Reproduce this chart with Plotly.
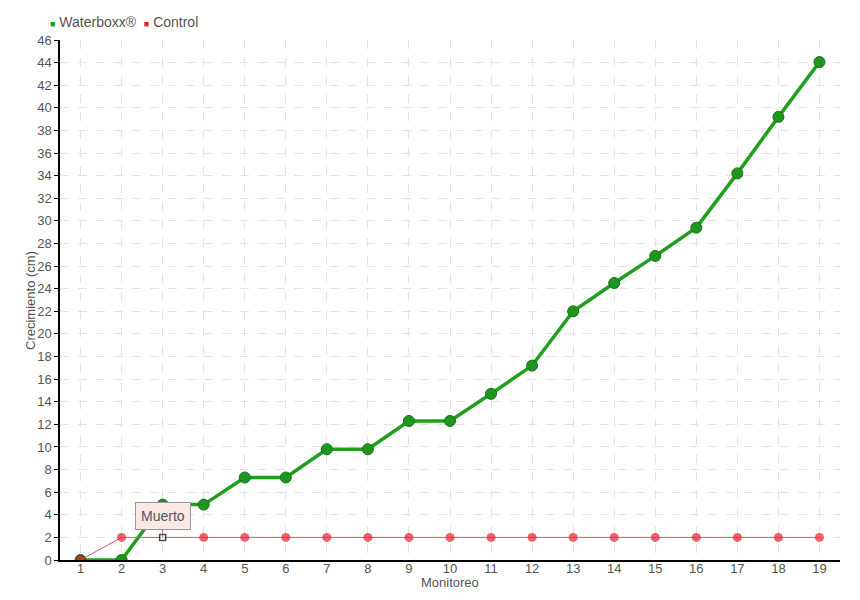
import plotly.graph_objects as go

monitoreo = list(range(1, 20))
waterboxx = [0, 0, 4.9, 4.9, 7.3, 7.3, 9.8, 9.8, 12.3, 12.3, 14.7, 17.2, 22.0, 24.5, 26.9, 29.4, 34.2, 39.2, 44.05]
control = [0] + [2] * 18
control_symbols = ["circle", "circle", "square"] + ["circle"] * 16
control_fill = ["#ee1c2e", "#ee1c2e", "white"] + ["#ee1c2e"] * 16
control_line = ["#b0001a", "#ee1c2e", "black"] + ["#ee1c2e"] * 16
control_size = [9, 9, 6] + [9] * 16

FONT = "Liberation Sans, Arial, sans-serif"
TXT = "#555555"
GREEN = "#1ea01e"
RED = "#ee1c2e"

fig = go.Figure()
fig.add_trace(go.Scatter(
    x=monitoreo, y=waterboxx, mode="lines+markers", name="Waterboxx®", showlegend=False,
    line=dict(color=GREEN, width=3.5),
    marker=dict(size=11, color="#1e961e", line=dict(color="#16701a", width=1)),
))
fig.add_trace(go.Scatter(
    x=monitoreo, y=control, mode="lines+markers", name="Control", showlegend=False,
    line=dict(color="#f0506a", width=1),
    marker=dict(size=control_size, color=control_fill, symbol=control_symbols,
                line=dict(color=control_line, width=[1, 0, 1.5] + [0] * 16)),
))

# legend (top-left)
fig.add_annotation(
    xref="paper", yref="paper", x=-0.0154, y=1.0346, xanchor="left", yanchor="middle",
    showarrow=False, align="left",
    text=(f"<span style='color:{GREEN};font-size:9px'>■</span> Waterboxx®  "
          f"<span style='color:{RED};font-size:9px'>■</span> Control"),
    font=dict(family=FONT, size=14, color=TXT),
)

# axis titles
fig.add_annotation(
    xref="paper", yref="paper", x=0.5, y=-0.0442, xanchor="center", yanchor="middle",
    showarrow=False, text="Monitoreo", font=dict(family=FONT, size=13, color=TXT),
)
fig.add_annotation(
    xref="paper", yref="paper", x=-0.0385, y=0.5, xanchor="center", yanchor="middle",
    showarrow=False, text="Crecimiento (cm)", textangle=-90,
    font=dict(family=FONT, size=13, color=TXT),
)

fig.add_annotation(
    x=3, y=2, text="Muerto", showarrow=True, arrowhead=0, arrowwidth=1,
    arrowcolor="#888", ax=0, ay=-21, bgcolor="#fde8e8", bordercolor="#999",
    borderwidth=1, borderpad=5, font=dict(family=FONT, size=14, color=TXT),
)

fig.update_layout(
    width=852, height=592,
    margin=dict(l=52, r=20, t=32, b=40, autoexpand=False),
    paper_bgcolor="white", plot_bgcolor="white",
    font=dict(family=FONT, size=13, color=TXT),
    showlegend=False,
    xaxis=dict(
        range=[0.5, 19.5], tickmode="array", tickvals=monitoreo,
        ticktext=[str(v) for v in monitoreo], automargin=False,
        showgrid=True, gridcolor="#e4e4e4", griddash="dash", gridwidth=1,
        showline=True, linecolor="black", linewidth=1.5,
        ticks="", ticklabelstandoff=-4, tickfont=dict(size=13, color=TXT),
        zeroline=False,
    ),
    yaxis=dict(
        range=[0, 46], tickmode="linear", tick0=0, dtick=2, automargin=False,
        showgrid=True, gridcolor="#e4e4e4", griddash="dash", gridwidth=1,
        showline=True, linecolor="black", linewidth=1.5,
        ticks="outside", ticklen=4, tickcolor="black",
        tickfont=dict(size=13, color=TXT),
        zeroline=False,
    ),
)

fig.write_html("out.html")
